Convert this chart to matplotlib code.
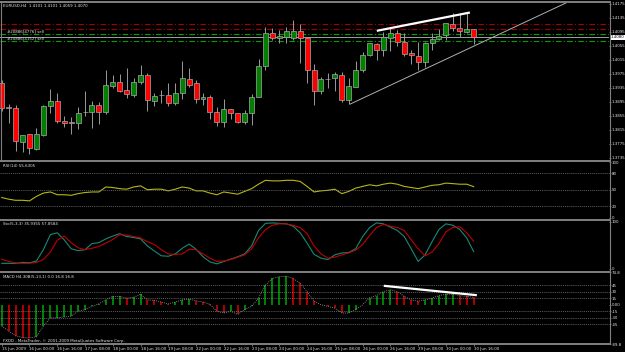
import matplotlib
matplotlib.use('Agg')
import matplotlib.pyplot as plt
from matplotlib import font_manager
from matplotlib.lines import Line2D
from matplotlib.transforms import blended_transform_factory
import numpy as np

# a narrow face keeps the small MetaTrader labels inside their strips
installed = {f.name for f in font_manager.fontManager.ttflist}
if 'Liberation Sans Narrow' in installed:
    plt.rcParams['font.family'] = ['Liberation Sans Narrow', 'DejaVu Sans']
else:
    plt.rcParams['font.family'] = ['DejaVu Sans']
    plt.rcParams['font.stretch'] = 'condensed'

W, H = 625, 352
BG = '#000000'
GRID = '#808080'
TXT = '#e4e4e4'
FS = 3.2

# EURUSD H4, bar 0 = 15 Jun 2009 08:00
opens = [1.3948, 1.3881, 1.3877, 1.3782, 1.3804, 1.3760, 1.3802, 1.3884, 1.3897, 1.3842,
         1.3839, 1.3834, 1.3865, 1.3866, 1.3886, 1.3867, 1.3942, 1.3951, 1.3929, 1.3915,
         1.3953, 1.3972, 1.3899, 1.3915, 1.3916, 1.3891, 1.3920, 1.3961, 1.3950, 1.3903,
         1.3910, 1.3867, 1.3839, 1.3874, 1.3864, 1.3838, 1.3864, 1.3910, 1.3998, 1.4093,
         1.4077, 1.4080, 1.4078, 1.4098, 1.4077, 1.3986, 1.3927, 1.3961, 1.3964, 1.3972,
         1.3901, 1.3939, 1.3986, 1.4029, 1.4061, 1.4044, 1.4077, 1.4091, 1.4067, 1.4036,
         1.4026, 1.4010, 1.4063, 1.4074, 1.4086, 1.4118, 1.4106, 1.4096, 1.4103]
highs = [1.3958, 1.3889, 1.3886, 1.3801, 1.3804, 1.3822, 1.3886, 1.3932, 1.3922, 1.3855,
         1.3851, 1.3880, 1.3926, 1.3898, 1.3896, 1.3986, 1.3972, 1.3975, 1.3991, 1.3963,
         1.4001, 1.3979, 1.3920, 1.3929, 1.3948, 1.3948, 1.4012, 1.3991, 1.3958, 1.3922,
         1.3915, 1.3880, 1.3903, 1.3874, 1.3864, 1.3872, 1.3918, 1.4017, 1.4110, 1.4106,
         1.4101, 1.4108, 1.4129, 1.4118, 1.4077, 1.4004, 1.3967, 1.3977, 1.3982, 1.3982,
         1.3963, 1.4013, 1.4039, 1.4063, 1.4063, 1.4096, 1.4106, 1.4101, 1.4091, 1.4044,
         1.4067, 1.4067, 1.4091, 1.4103, 1.4120, 1.4150, 1.4148, 1.4148, 1.4103]
lows = [1.3869, 1.3835, 1.3756, 1.3753, 1.3746, 1.3758, 1.3798, 1.3863, 1.3834, 1.3824,
        1.3803, 1.3817, 1.3855, 1.3822, 1.3832, 1.3861, 1.3934, 1.3924, 1.3906, 1.3908,
        1.3946, 1.3870, 1.3884, 1.3893, 1.3884, 1.3886, 1.3903, 1.3939, 1.3891, 1.3886,
        1.3846, 1.3826, 1.3824, 1.3846, 1.3836, 1.3832, 1.3829, 1.3908, 1.3986, 1.4072,
        1.4063, 1.4064, 1.4072, 1.4006, 1.3950, 1.3886, 1.3918, 1.3934, 1.3927, 1.3896,
        1.3889, 1.3937, 1.3982, 1.4026, 1.4015, 1.4026, 1.4042, 1.4055, 1.4026, 1.4004,
        1.3986, 1.3996, 1.4044, 1.4072, 1.4072, 1.4099, 1.4082, 1.4091, 1.4061]
closes = [1.3877, 1.3878, 1.3784, 1.3801, 1.3763, 1.3804, 1.3884, 1.3897, 1.3842, 1.3836,
          1.3836, 1.3863, 1.3866, 1.3886, 1.3867, 1.3944, 1.3951, 1.3927, 1.3917, 1.3951,
          1.3972, 1.3901, 1.3912, 1.3916, 1.3891, 1.3920, 1.3963, 1.3944, 1.3903, 1.3910,
          1.3867, 1.3839, 1.3874, 1.3863, 1.3838, 1.3864, 1.3910, 1.3998, 1.4093, 1.4079,
          1.4084, 1.4098, 1.4098, 1.4077, 1.3986, 1.3927, 1.3960, 1.3962, 1.3974, 1.3901,
          1.3941, 1.3986, 1.4029, 1.4063, 1.4044, 1.4080, 1.4091, 1.4067, 1.4032, 1.4029,
          1.4008, 1.4064, 1.4074, 1.4084, 1.4120, 1.4106, 1.4098, 1.4103, 1.4080]

rsi = [36, 33, 31, 31, 30, 38, 44, 46, 41, 41, 40, 43, 45, 46, 46, 55, 54, 52, 51, 55,
       57, 50, 51, 51, 48, 51, 55, 53, 48, 48, 44, 41, 46, 44, 42, 47, 52, 60, 67, 66,
       66, 67, 67, 65, 56, 46, 48, 49, 51, 43, 47, 53, 56, 59, 57, 60, 62, 60, 56, 54,
       52, 55, 58, 59, 62, 61, 60, 60, 55.6]
sto_main = [11, 11, 11, 13, 12, 16, 40, 72, 76, 61, 42, 38, 40, 53, 55, 63, 69, 74, 68, 66,
            63, 48, 37, 27, 26, 31, 43, 52, 41, 25, 14, 10, 15, 20, 25, 31, 48, 81, 96, 97,
            96, 95, 90, 76, 54, 30, 22, 19, 29, 33, 34, 42, 68, 87, 97, 95, 88, 81, 68, 42,
            15, 29, 57, 83, 95, 92, 83, 65, 35.9]
sto_signal = [20, 15, 12, 11, 11, 13, 19, 35, 60, 69, 55, 44, 40, 43, 47, 54, 62, 72, 71, 68,
              65, 57, 51, 40, 31, 30, 31, 41, 40, 31, 22, 15, 16, 19, 24, 29, 42, 65, 83, 92,
              95, 95, 92, 87, 74, 48, 31, 22, 24, 29, 33, 39, 51, 70, 87, 94, 90, 87, 81, 61,
              42, 27, 35, 53, 78, 87, 89, 76, 57.9]
macd = [-49, -60, -71, -75, -76, -73, -49, -30, -30, -28, -26, -15, -11, -4, 2, 11, 19, 19, 15, 17,
        24, 11, 10, 6, 2, 6, 11, 13, 9, 6, 1, -15, -19, -15, -22, -11, -4, 15, 45, 60,
        64, 65, 60, 49, 30, 8, 0, -4, -8, -19, -19, -11, 0, 16, 21, 30, 34, 30, 19, 11,
        8, 11, 15, 21, 24, 24, 21, 19, 16.8]

price_ticks = [1.3735, 1.3775, 1.3815, 1.3855, 1.3895, 1.3935, 1.3975, 1.4015,
               1.4055, 1.4095, 1.4135, 1.4175]
date_bars = [0, 4, 8, 12, 16, 20, 24, 28, 32, 36, 40, 44, 48, 52, 56, 60, 64, 68]
date_labels = ['15 Jun 2009', '16 Jun 00:00', '16 Jun 16:00', '17 Jun 08:00', '18 Jun 00:00',
               '18 Jun 16:00', '19 Jun 08:00', '22 Jun 00:00', '22 Jun 16:00', '23 Jun 08:00',
               '24 Jun 00:00', '24 Jun 16:00', '25 Jun 08:00', '26 Jun 00:00', '26 Jun 16:00',
               '29 Jun 08:00', '30 Jun 00:00', '30 Jun 16:00']

# open sell orders: entry (green) and stop (red) levels
sell_entries = [1.4089, 1.4068]
sell_labels = ['#20886[4776] sell', '#20886[4152] sell']
sell_stops = [1.4117, 1.4103]

# hand-drawn trend lines (bar, price)
support_x, support_y = [50.2, 81.3], [1.3889, 1.4178]
resist_x, resist_y = [54.2, 67.3], [1.4099, 1.4150]
macd_line_x, macd_line_y = [55.2, 68.3], [43.0, 22.0]


def frac(x0, y0, x1, y1):
    return [x0 / W, 1 - y1 / H, (x1 - x0) / W, (y1 - y0) / H]


fig = plt.figure(figsize=(W / 100, H / 100), dpi=100, facecolor=BG)
ax = fig.add_axes(frac(0, 2, 609, 159))
ax_r = fig.add_axes(frac(0, 162, 609, 217.5))
ax_s = fig.add_axes(frac(0, 221.5, 609, 268.5))
ax_m = fig.add_axes(frac(0, 272, 609, 344))

for a in (ax, ax_r, ax_s, ax_m):
    a.set_facecolor(BG)
    a.set_xlim(-0.25, 87.5)
    for s in a.spines.values():
        s.set_visible(False)
    a.yaxis.tick_right()
    a.tick_params(axis='x', bottom=False, labelbottom=False)
    a.tick_params(axis='y', color=GRID, labelcolor=TXT, labelsize=FS,
                  length=1.2, width=0.6, pad=0.5)

# --- price window ---
idx = np.arange(len(opens))
o, h, l, c = map(np.array, (opens, highs, lows, closes))
up = c >= o
ax.vlines(idx, l, h, color='#9a9a9a', lw=0.7, zorder=2)
ax.bar(idx, np.maximum(np.abs(c - o), 0.00006), bottom=np.minimum(o, c), width=0.72,
       color=np.where(up, '#007f00', '#ff0000'), edgecolor='#a8a8a8', lw=0.5, zorder=3)
ax.set_ylim(1.37321, 1.41807)
ax.set_yticks(price_ticks)
ax.set_yticklabels([f'{p:.4f}' for p in price_ticks])

for lv in sell_stops:
    ax.axhline(lv, color='#a00000', lw=0.8, ls=(0, (5, 2, 1, 2)), zorder=1)
for lv, lab in zip(sell_entries, sell_labels):
    ax.axhline(lv, color='#00a000', lw=0.8, ls=(0, (5, 2, 1, 2)), zorder=1)
    ax.text(0.7, lv + 0.0003, lab, fontsize=FS, color=TXT, va='bottom')
ax.axhline(closes[-1], color='#a0a0a0', lw=0.7, zorder=1)
ax.plot(support_x, support_y, color='#b0b0b0', lw=0.7, zorder=4)
ax.plot(resist_x, resist_y, color='white', lw=1.6, zorder=4)
ax.text(1.002, closes[-1], f'{closes[-1]:.4f}', fontsize=FS, color='black', va='center',
        transform=blended_transform_factory(ax.transAxes, ax.transData),
        bbox=dict(facecolor='white', edgecolor='none', pad=0.5), clip_on=False)
ax.text(0.005, 0.985, 'EURUSD,H4  1.4101 1.4101 1.4059 1.4070', transform=ax.transAxes,
        fontsize=FS, color=TXT, va='top')

# --- RSI ---
ax_r.plot(idx, rsi, color='#b8b418', lw=0.8)
for lv in (20, 50, 80):
    ax_r.axhline(lv, color=GRID, lw=0.5, ls=(0, (1.5, 1.5)))
ax_r.set_ylim(0, 100)
ax_r.set_yticks([0, 20, 50, 80, 100])

# --- Stochastic ---
ax_s.plot(idx, sto_main, color='#17887a', lw=0.8)
ax_s.plot(idx, sto_signal, color='#c00000', lw=0.8)
ax_s.set_ylim(0, 100)
ax_s.set_yticks([0, 100])

# --- MACD ---
m = np.array(macd)
rising = np.r_[m[0] > -60, m[1:] >= m[:-1]]
ax_m.vlines(idx, 0, m, colors=np.where(rising, '#00a800', '#e00000'), lw=1.1)
ax_m.plot(idx, m, color='#a0a0a0', lw=0.6, ls=(0, (1, 1.5)))
for lv in (-45, -30, -15, 15, 30, 45):
    ax_m.axhline(lv, color=GRID, lw=0.5, ls=(0, (1.5, 1.5)))
ax_m.plot(macd_line_x, macd_line_y, color='white', lw=1.6)
ax_m.set_ylim(-89.8, 74.8)
ax_m.set_yticks([-89.8, -45, -30, -15, 0, 15, 30, 45, 74.8])
ax_m.set_yticklabels(['-89.8', '-45', '-30', '-15', '0.00', '15', '30', '45', '74.8'])
ax_m.set_xticks(date_bars)
ax_m.set_xticklabels(date_labels, ha='left')
ax_m.tick_params(axis='x', bottom=True, labelbottom=True, color=GRID, labelcolor=TXT,
                 labelsize=FS, length=1.2, width=0.6, pad=1.2)

# window labels
fig.text(3 / W, 1 - 166 / H, 'RSI(14) 55.6305', fontsize=FS, color=TXT, va='center')
fig.text(3 / W, 1 - 224 / H, 'Sto(5,3,3) 35.9355 57.8584', fontsize=FS, color=TXT, va='center')
fig.text(3 / W, 1 - 277 / H, 'MACD H4-30B(5,13,1) 0.0 16.8 16.8', fontsize=FS, color=TXT, va='center')
fig.text(3 / W, 1 - 341 / H, 'FXDD - MetaTrader, \u00a9 2001-2009 MetaQuotes Software Corp.',
         fontsize=FS, color=TXT, va='center')

# window borders
for yb in (1.5, 160.5, 219.5, 271.5, 343.5):
    fig.add_artist(Line2D([0, 609.5 / W], [1 - yb / H] * 2, color=GRID, lw=1.4))
fig.add_artist(Line2D([609.5 / W] * 2, [1 - 1.5 / H, 1 - 343.5 / H], color=GRID, lw=0.8))
fig.add_artist(Line2D([1 / W] * 2, [1 - 1.5 / H, 1 - 160.5 / H], color=GRID, lw=0.8))

fig.savefig('out.png', dpi=100, facecolor=BG)
